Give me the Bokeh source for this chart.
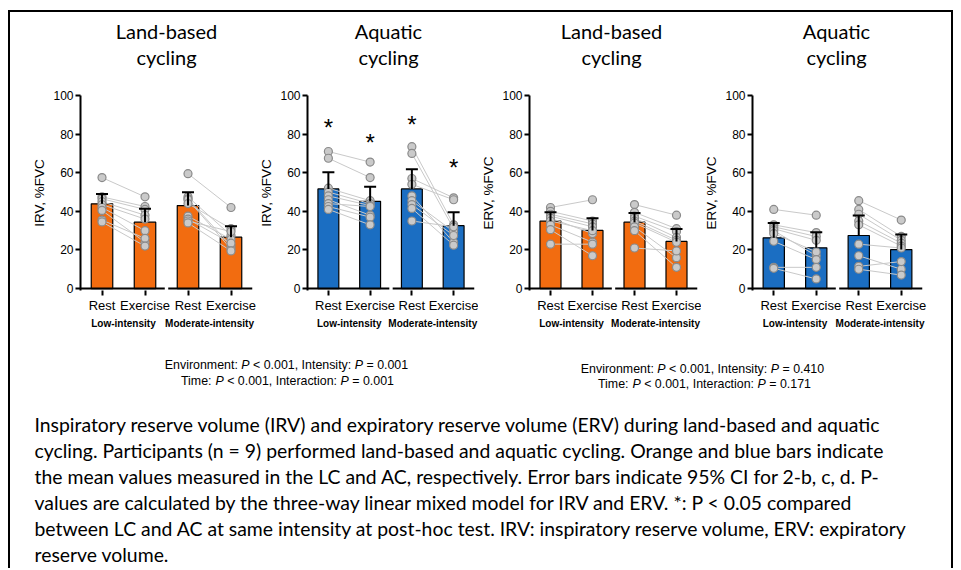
from bokeh.plotting import figure
from bokeh.models import FactorRange, Range1d, Whisker, TeeHead, ColumnDataSource, FixedTicker, Spacer
from bokeh.layouts import row, column
from bokeh.core.properties import value
from bokeh.embed import file_html
from bokeh.resources import INLINE

# ---------------- data ----------------
intensities = ["Low-intensity", "Moderate-intensity"]
conditions = ["Rest", "Exercise"]
titles = ["Land-based\ncycling", "Aquatic\ncycling", "Land-based\ncycling", "Aquatic\ncycling"]
ylabels = ["IRV, %FVC", "IRV, %FVC", "ERV, %FVC", "ERV, %FVC"]
yticks = [0, 20, 40, 60, 80, 100]

# bar means (Rest/Exercise low, Rest/Exercise moderate) and upper 95% CI
irv_land_mean = [43.9, 34.4, 43.0, 26.6]
irv_land_ci = [49.0, 41.3, 49.9, 32.3]
irv_aq_mean = [51.6, 45.2, 51.6, 32.6]
irv_aq_ci = [60.3, 52.8, 61.8, 39.5]
erv_land_mean = [34.9, 30.1, 34.4, 24.4]
erv_land_ci = [39.5, 36.4, 39.2, 30.9]
erv_aq_mean = [26.3, 21.1, 27.5, 20.2]
erv_aq_ci = [34.0, 29.2, 37.8, 28.0]

# individual participants (n = 9), paired by index
irv_land_low_rest = [57.5, 47.5, 46.5, 45, 43.5, 42, 40.5, 35.5, 34.5]
irv_land_low_ex = [47.5, 42.5, 41, 38, 36, 30, 24, 26, 22]
irv_land_mod_rest = [59.5, 47.5, 46.5, 46, 44, 37.5, 36, 35, 34]
irv_land_mod_ex = [42, 27.5, 22, 20.5, 31, 25.5, 23.5, 29.5, 19.5]

irv_aq_low_rest = [71, 67.5, 52, 50, 48, 46, 44, 42.5, 41]
irv_aq_low_ex = [65.5, 57.5, 45.5, 44, 43, 38, 42.5, 37, 33]
irv_aq_mod_rest = [73.5, 70, 57, 54, 48, 45.5, 43.5, 41.5, 35]
irv_aq_mod_ex = [33, 31, 47, 46, 24, 29.5, 27.5, 22.5, 32]

erv_land_low_rest = [42, 40, 38.5, 37.5, 36.5, 35, 33, 30.5, 23]
erv_land_low_ex = [46, 35, 33.5, 32, 28.5, 30, 24, 17, 23]
erv_land_mod_rest = [43.5, 39.5, 37.5, 36.5, 35, 34, 32, 30, 21]
erv_land_mod_ex = [38, 31, 29.5, 26.5, 25, 24, 16, 11, 19.5]

erv_aq_low_rest = [41, 33, 32, 31, 30, 28.5, 24.5, 11, 10.5]
erv_aq_low_ex = [38, 29, 27, 25, 17, 19, 15, 11, 5]
erv_aq_mod_rest = [45.5, 41, 38.5, 35, 33, 23, 17, 11.5, 10]
erv_aq_mod_ex = [35.5, 27, 25, 23.5, 22, 21, 10, 14, 7]

# post-hoc significance (LC vs AC) per bar
irv_aq_sig = [True, True, True, True]

stats_irv = [["Environment:", " ", ("P",), " ", "< 0.001, Intensity:", " ", ("P",), " ", "= 0.001"],
             ["Time:", " ", ("P",), " ", "< 0.001, Interaction:", " ", ("P",), " ", "= 0.001"]]
stats_erv = [["Environment:", " ", ("P",), " ", "< 0.001, Intensity:", " ", ("P",), " ", "= 0.410"],
             ["Time:", " ", ("P",), " ", "< 0.001, Interaction:", " ", ("P",), " ", "= 0.171"]]

caption = [
    "Inspiratory reserve volume (IRV) and expiratory reserve volume (ERV) during land-based and aquatic",
    "cycling. Participants (n = 9) performed land-based and aquatic cycling. Orange and blue bars indicate",
    "the mean values measured in the LC and AC, respectively. Error bars indicate 95% CI for 2-b, c, d. P-",
    "values are calculated by the three-way linear mixed model for IRV and ERV. *: P < 0.05 compared",
    "between LC and AC at same intensity at post-hoc test. IRV: inspiratory reserve volume, ERV: expiratory",
    "reserve volume.",
]

# ---------------- style / layout ----------------
ORANGE = "#F26C10"
BLUE = "#1B6EC2"
AXFONT = "Liberation Sans"
TFONT = "Lato"
FRAME_W, TOP, FRAME_H, BOTTOM = 172, 13, 195, 57
LEFTS = [70, 46, 47, 49]
RIGHTS = [4, 4, 4, 29]
W = 941


def panel(ylabel, color, means, ci, pts, sig, left, right):
    factors = [(g, c) for g in intensities for c in conditions]
    xr = FactorRange(*factors, factor_padding=0, group_padding=0, range_padding=0)
    p = figure(x_range=xr, y_range=Range1d(-1, 100),
               width=left + FRAME_W + right, height=TOP + FRAME_H + BOTTOM,
               min_border_left=left, min_border_right=right, min_border_top=TOP,
               min_border_bottom=BOTTOM, output_backend="svg", toolbar_location=None)
    p.outline_line_color = None
    p.grid.visible = False

    p.vbar(x=factors, top=means, bottom=0, width=0.5, fill_color=color,
           line_color="black", line_width=1.2)
    src = ColumnDataSource(dict(x=factors, lower=means, upper=ci))
    p.add_layout(Whisker(base="x", lower="lower", upper="upper", source=src, lower_head=None,
                         upper_head=TeeHead(size=12, line_width=2, line_color="black"),
                         line_width=2, line_color="black", level="glyph"))

    for i, g in enumerate(intensities):
        rest, ex = pts[2 * i], pts[2 * i + 1]
        p.segment(x0=[(g, "Rest")] * len(rest), y0=rest, x1=[(g, "Exercise")] * len(ex), y1=ex,
                  line_color="#c9c9c9", line_width=1)
    for i, g in enumerate(intensities):
        for j, c in enumerate(conditions):
            vals = pts[2 * i + j]
            p.scatter(x=[(g, c)] * len(vals), y=vals, size=8, fill_color="#cacaca",
                      line_color="#8a8a8a", line_width=1.2)

    if sig:
        p.text(x=[f for f, s in zip(factors, sig) if s], y=[v + 23 for v, s in zip(ci, sig) if s],
               text=["*"] * sum(sig), text_align="center", text_baseline="middle",
               text_font=value("Liberation Sans"), text_font_size="24px", text_color="black")

    # broken x-axis line
    p.segment(x0=[(intensities[0], "Rest", -0.5), (intensities[1], "Rest", -0.46)],
              x1=[(intensities[0], "Exercise", 0.46), (intensities[1], "Exercise", 0.5)],
              y0=[0, 0], y1=[0, 0], line_color="black", line_width=2)

    ya = p.yaxis[0]
    ya.ticker = FixedTicker(ticks=yticks)
    ya.axis_line_width = 2
    ya.major_tick_line_width = 2
    ya.major_tick_out = 5
    ya.major_tick_in = 0
    ya.minor_tick_line_color = None
    ya.major_label_text_font = AXFONT
    ya.major_label_text_font_size = "12px"
    ya.major_label_text_color = "black"
    ya.major_label_standoff = 2
    ya.axis_label = ylabel
    ya.axis_label_text_font = AXFONT
    ya.axis_label_text_font_size = "13.5px"
    ya.axis_label_text_font_style = "normal"
    ya.axis_label_text_color = "black"
    ya.axis_label_standoff = 3

    xa = p.xaxis[0]
    xa.axis_line_color = None
    xa.major_tick_line_width = 2
    xa.major_tick_out = 5
    xa.major_tick_in = 0
    xa.major_label_text_font = AXFONT
    xa.major_label_text_font_size = "13px"
    xa.major_label_text_color = "black"
    xa.major_label_standoff = 2
    xa.group_text_font = AXFONT
    xa.group_text_font_size = "10px"
    xa.group_text_font_style = "bold"
    xa.group_text_color = "black"
    xa.separator_line_color = None
    return p


p1 = panel(ylabels[0], ORANGE, irv_land_mean, irv_land_ci,
           [irv_land_low_rest, irv_land_low_ex, irv_land_mod_rest, irv_land_mod_ex], None, LEFTS[0], RIGHTS[0])
p2 = panel(ylabels[1], BLUE, irv_aq_mean, irv_aq_ci,
           [irv_aq_low_rest, irv_aq_low_ex, irv_aq_mod_rest, irv_aq_mod_ex], irv_aq_sig, LEFTS[1], RIGHTS[1])
p3 = panel(ylabels[2], ORANGE, erv_land_mean, erv_land_ci,
           [erv_land_low_rest, erv_land_low_ex, erv_land_mod_rest, erv_land_mod_ex], None, LEFTS[2], RIGHTS[2])
p4 = panel(ylabels[3], BLUE, erv_aq_mean, erv_aq_ci,
           [erv_aq_low_rest, erv_aq_low_ex, erv_aq_mod_rest, erv_aq_mod_ex], None, LEFTS[3], RIGHTS[3])

# ---------------- title strip ----------------
HT = 70
pt = figure(width=W, height=HT, x_range=Range1d(0, W), y_range=Range1d(HT, 0),
            x_axis_type=None, y_axis_type=None, min_border=0, output_backend="svg",
            toolbar_location=None)
pt.outline_line_color = None
pt.grid.visible = False
tx, ty, tt = [], [], []
x0 = 0
for k, t in enumerate(titles):
    cx = x0 + LEFTS[k] + FRAME_W / 2.0
    for j, line in enumerate(t.split("\n")):
        tx.append(cx)
        ty.append(18 + 26 * j)
        tt.append(line)
    x0 += LEFTS[k] + FRAME_W + RIGHTS[k]
pt.text(x=tx, y=ty, text=tt, text_align="center", text_baseline="middle",
        text_font=value(TFONT), text_font_size="20px", text_color="black")

# ---------------- text panel ----------------
ARIAL = {" ": 278, ",": 278, ".": 278, ":": 278, "<": 584, "=": 584, "-": 333}
ARIAL.update({d: 556 for d in "0123456789"})
ARIAL.update(dict(zip("ABCDEFGHIJKLMNOPQRSTUVWXYZ",
                      [667, 667, 722, 722, 667, 611, 778, 722, 278, 500, 667, 556, 833, 722, 778, 667, 778,
                       722, 667, 611, 722, 667, 944, 667, 667, 611])))
ARIAL.update(dict(zip("abcdefghijklmnopqrstuvwxyz",
                      [556, 556, 500, 556, 556, 278, 556, 556, 222, 222, 500, 222, 833, 556, 556, 556, 556,
                       333, 500, 278, 556, 500, 722, 500, 500, 500])))


def tw(s, size):
    return sum(ARIAL.get(ch, 556) for ch in s) * size / 1000.0


H = 221
pb = figure(width=W, height=H, x_range=Range1d(0, W), y_range=Range1d(H, 0),
            x_axis_type=None, y_axis_type=None, min_border=0, output_backend="svg",
            toolbar_location=None)
pb.outline_line_color = None
pb.grid.visible = False


def rich_line(tokens, cx, y, size):
    pieces = [(t[0], True) if isinstance(t, tuple) else (t, False) for t in tokens]
    total = sum(tw(t, size) for t, _ in pieces)
    x = cx - total / 2.0
    xs = {False: [], True: []}
    ts = {False: [], True: []}
    for t, it in pieces:
        if t.strip():
            xs[it].append(x)
            ts[it].append(t)
        x += tw(t, size)
    for it in (False, True):
        pb.text(x=xs[it], y=[y] * len(xs[it]), text=ts[it], text_align="left", text_baseline="middle",
                text_font=value("Liberation Sans"), text_font_size=f"{size}px",
                text_font_style="italic" if it else "normal", text_color="black")


rich_line(stats_irv[0], 276, 17, 12.4)
rich_line(stats_irv[1], 277, 33, 12.4)
rich_line(stats_erv[0], 692, 21, 12.4)
rich_line(stats_erv[1], 694, 36, 12.4)

pb.text(x=[24] * len(caption), y=[77 + 26 * i for i in range(len(caption))], text=caption,
        text_align="left", text_baseline="middle", text_font=value(TFONT), text_font_size="19.4px",
        text_color="black")

inner = column(pt, row(p1, p2, p3, p4), pb,
               styles={"border-top": "2px solid black", "border-left": "2px solid black",
                       "border-right": "2px solid black"})
layout = row(Spacer(width=8, height=10), column(Spacer(width=10, height=10), inner))

open("out.html", "w").write(file_html(layout, INLINE))
